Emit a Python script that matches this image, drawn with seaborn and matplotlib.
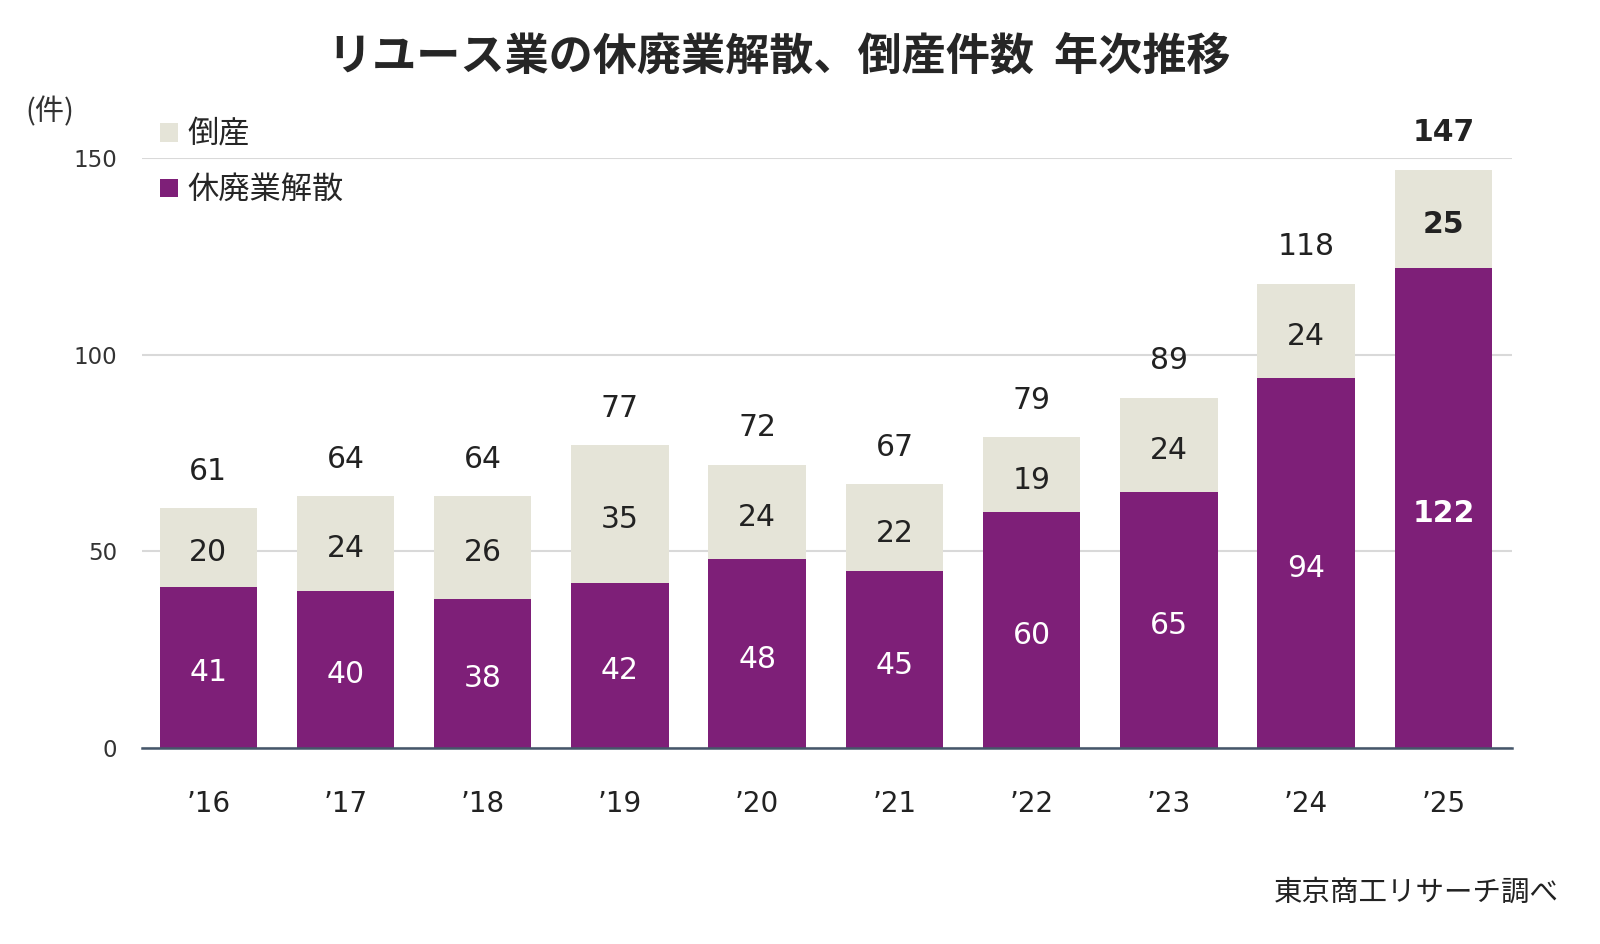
import matplotlib.pyplot as plt
import seaborn as sns
import pandas as pd
from matplotlib.patches import Patch

sns.set_style("white")
plt.rcParams['font.family'] = ['DejaVu Sans', 'Noto Sans CJK JP']

years = ['’16', '’17', '’18', '’19', '’20', '’21', '’22', '’23', '’24', '’25']
haihai = [41, 40, 38, 42, 48, 45, 60, 65, 94, 122]   # 休廃業解散
tosan = [20, 24, 26, 35, 24, 22, 19, 24, 24, 25]     # 倒産

PURPLE = '#7e1f78'
BEIGE = '#e5e4d8'
DARK = '#222222'

df = pd.DataFrame({'year': years, 'haihai': haihai, 'tosan': tosan})
df['total'] = df['haihai'] + df['tosan']

fig = plt.figure(figsize=(16, 9.44), dpi=100)
ax = fig.add_axes([0.089, 0.2076, 0.856, 0.625])

sns.barplot(data=df, x='year', y='total', color=BEIGE, width=0.71,
            saturation=1, linewidth=0, ax=ax, zorder=2)
sns.barplot(data=df, x='year', y='haihai', color=PURPLE, width=0.71,
            saturation=1, linewidth=0, ax=ax, zorder=3)

ax.set_ylim(0, 150)
ax.set_xlim(-0.48, 9.5)
ax.set_yticks([0, 50, 100, 150])
ax.yaxis.grid(True, color='#d9d9d9', linewidth=1.5, zorder=0)
ax.set_axisbelow(True)
for s in ['top', 'right', 'left']:
    ax.spines[s].set_visible(False)
ax.spines['bottom'].set_color('#45566a')
ax.spines['bottom'].set_linewidth(1.8)
ax.spines['bottom'].set_zorder(5)
ax.set_xlabel('')
ax.set_ylabel('')
ax.tick_params(axis='y', length=0, labelsize=16.5, colors='#333333', pad=18)
ax.tick_params(axis='x', length=0, labelsize=20, colors='#222222', pad=30)

last = len(years) - 1
for i, row in df.iterrows():
    bold = 'bold' if i == last else 'normal'
    ax.text(i, row['haihai'] / 2 - 1.4, str(row['haihai']), ha='center', va='center',
            color='white', fontsize=21.5, fontweight=bold, zorder=6)
    ax.text(i, row['haihai'] + row['tosan'] / 2 - 1.4, str(row['tosan']), ha='center',
            va='center', color=DARK, fontsize=21.5, fontweight=bold, zorder=6)
    ax.text(i, row['total'] + 9.4, str(row['total']), ha='center', va='center',
            color=DARK, fontsize=21.5, fontweight=bold, zorder=6, clip_on=False)

handles = [Patch(facecolor=BEIGE, edgecolor='none', label='倒産'),
           Patch(facecolor=PURPLE, edgecolor='none', label='休廃業解散')]
ax.legend(handles=handles, loc='upper left', bbox_to_anchor=(0.004, 1.088),
          frameon=False, handlelength=0.55, handleheight=0.55,
          handletextpad=0.3, labelspacing=0.75, borderaxespad=0,
          prop={'family': 'Noto Sans CJK JP', 'size': 22.5})

fig.text(0.487, 0.94, 'リユース業の休廃業解散、倒産件数  年次推移', ha='center',
         va='center', fontsize=31.8, fontweight='bold', family='Noto Sans CJK JP')
fig.text(0.016, 0.881, '(件)', ha='left', va='center', fontsize=21,
         family='Noto Sans CJK JP', color='#333333')
fig.text(0.974, 0.054, '東京商工リサーチ調べ', ha='right', va='center',
         fontsize=20.5, family='Noto Sans CJK JP', color=DARK)

fig.savefig('out.png', dpi=100)
